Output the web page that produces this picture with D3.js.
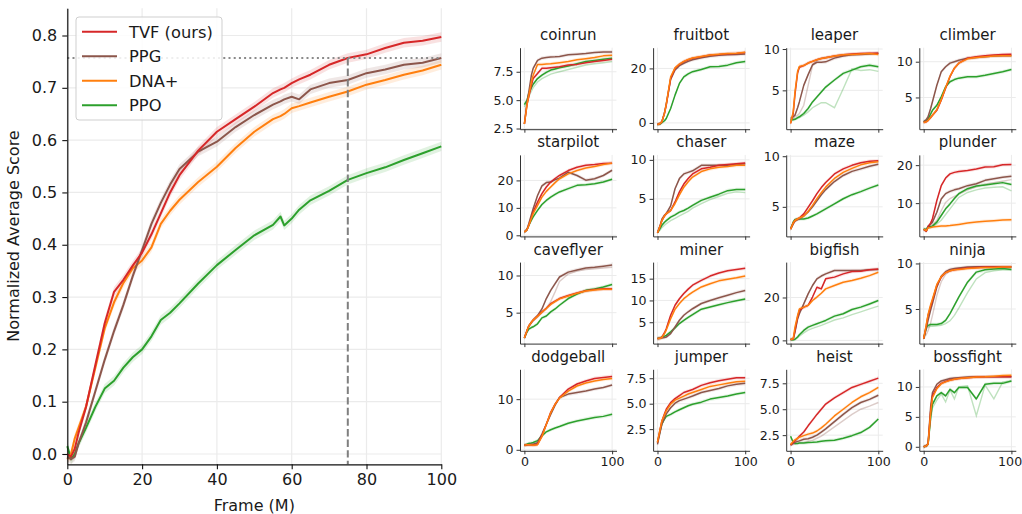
<!DOCTYPE html>
<html><head><meta charset="utf-8">
<script src="https://cdn.jsdelivr.net/npm/d3@7"></script>
<style>body{margin:0;background:#fff} svg{display:block} text{font-family:"DejaVu Sans",sans-serif;fill:#1a1a1a}</style>
</head><body><svg id="c" width="1022" height="514"></svg>
<script>
// ---------------- data: main panel ----------------
const mainFrames = [0,1,2,3,5,7.5,10,12.5,15,17.5,20,22.5,25,27.5,30,35,40,45,50,55,57,58,60,62,65,70,75,80,85,90,95,100];
const mainTVF = [0.0,-0.005,0.01,0.04,0.09,0.17,0.25,0.31,0.333,0.36,0.385,0.42,0.46,0.5,0.533,0.58,0.616,0.64,0.664,0.69,0.697,0.7,0.709,0.716,0.725,0.744,0.757,0.764,0.776,0.786,0.79,0.797];
const mainPPG = [-0.005,-0.01,-0.005,0.02,0.06,0.12,0.18,0.235,0.285,0.34,0.39,0.44,0.48,0.515,0.545,0.578,0.597,0.625,0.648,0.668,0.674,0.678,0.683,0.678,0.697,0.709,0.715,0.728,0.735,0.744,0.748,0.757];
const mainDNA = [-0.01,0.0,0.03,0.05,0.09,0.165,0.24,0.29,0.327,0.355,0.37,0.395,0.44,0.465,0.486,0.52,0.549,0.585,0.616,0.64,0.646,0.65,0.661,0.665,0.672,0.683,0.693,0.706,0.715,0.725,0.733,0.744];
const mainPPO = [0.015,-0.01,0.0,0.02,0.05,0.09,0.125,0.14,0.165,0.185,0.2,0.225,0.256,0.27,0.288,0.326,0.361,0.39,0.418,0.438,0.454,0.437,0.45,0.467,0.485,0.503,0.524,0.537,0.548,0.562,0.575,0.588];
const mainXTicks = [0,20,40,60,80,100];
const mainYTicks = [0.0,0.1,0.2,0.3,0.4,0.5,0.6,0.7,0.8];
const refFrame = 75;
const refScore = 0.757;
const seriesNames = ["TVF (ours)","PPG","DNA+","PPO"];

// ---------------- data: per-game panels ----------------
const games = ["coinrun","fruitbot","leaper","climber","starpilot","chaser","maze","plunder","caveflyer","miner","bigfish","ninja","dodgeball","jumper","heist","bossfight"];
const frames = [0,3,5,8,10,15,20,25,30,35,40,50,60,70,80,90,100];
const tvf = [
 [2.9,4.6,5.3,6.3,6.9,7.35,7.8,7.8,7.85,7.9,7.95,8.1,8.15,8.3,8.4,8.5,8.6],
 [-0.6,-0.2,0.4,3.5,6.5,16.3,20,21.5,22.5,23.2,23.7,24.3,24.9,25.1,25.4,25.5,25.8],
 [1.0,2.2,4.5,7.1,7.8,8.0,8.3,8.5,8.7,8.85,8.95,9.15,9.3,9.4,9.45,9.5,9.5],
 [1.5,1.6,1.8,2.2,2.5,3.2,4.6,6.3,7.9,9.1,9.8,10.5,10.7,10.85,10.95,11.0,11.05],
 [1.2,2.0,3.6,6.5,8.5,12.1,15.2,17.6,19.4,20.7,21.8,23.6,24.8,25.5,25.8,26.2,26.3],
 [0.65,1.5,2.2,2.8,3.1,3.5,4.6,5.9,6.9,7.6,8.2,8.85,9.05,9.3,9.4,9.5,9.6],
 [2.8,3.4,3.65,3.8,3.9,4.3,4.95,5.6,6.3,6.9,7.4,8.25,8.75,9.1,9.35,9.5,9.55],
 [3.1,2.6,3.7,4.8,5.9,10.7,14.6,16.6,17.7,18.1,18.3,18.6,19.0,19.5,19.6,20.1,20.2],
 [1.6,2.6,3.2,3.7,4.0,4.55,5.1,5.6,6.2,6.55,6.9,7.3,7.65,7.95,8.1,8.2,8.2],
 [1.25,1.3,1.6,2.6,3.5,6.6,8.9,10.4,11.6,12.6,13.5,14.6,15.6,16.3,16.8,17.1,17.4],
 [0.4,0.6,4.6,10.9,14.0,15.5,16.3,20.2,24.8,24.0,28.7,29.5,31.0,32.1,32.2,32.9,33.3],
 [1.75,3.2,4.3,5.3,5.95,7.6,8.5,9.0,9.2,9.3,9.4,9.5,9.55,9.6,9.6,9.6,9.6],
 [0.9,1.0,1.0,0.95,0.9,1.1,2.75,5.05,7.4,9.0,10.3,12.0,13.0,13.6,14.1,14.3,14.5],
 [1.2,2.5,3.3,4.0,4.45,5.1,5.5,5.8,6.1,6.25,6.4,6.8,7.05,7.25,7.4,7.55,7.55],
 [1.55,1.8,1.95,2.2,2.4,2.8,3.4,3.95,4.5,5.0,5.5,6.1,6.6,7.1,7.4,7.7,8.0],
 [0,0.15,0.45,6.0,8.5,9.9,10.6,10.9,11.15,11.3,11.4,11.55,11.65,11.7,11.7,11.7,11.7]
];
const ppg = [
 [2.9,4.8,5.7,7.2,7.8,8.5,8.7,8.75,8.8,8.82,8.85,9.0,9.05,9.1,9.2,9.25,9.25],
 [-0.6,-0.2,0.4,3.8,7.0,16.0,19.4,21.0,21.9,22.6,23.2,23.9,24.5,24.8,25.0,25.1,25.3],
 [1.6,1.8,2.0,2.9,3.6,5.6,6.9,8.1,8.4,8.4,8.45,8.9,9.15,9.3,9.35,9.4,9.5],
 [1.6,1.9,2.3,3.5,4.4,6.7,8.6,9.3,9.8,10.0,10.2,10.5,10.6,10.7,10.8,10.85,10.85],
 [1.2,2.2,4.2,7.5,9.7,14.5,18.0,19.2,19.4,20.3,20.8,23.0,21.8,20.1,20.6,21.8,23.7],
 [0.65,1.6,2.4,2.9,3.1,4.1,6.3,7.6,8.2,8.4,8.6,9.3,9.3,9.3,9.3,9.4,9.5],
 [2.8,3.3,3.6,3.75,3.8,4.1,4.5,5.0,5.6,6.2,6.7,7.5,8.1,8.5,8.75,9.0,9.2],
 [3.1,2.6,3.95,4.5,5.0,7.6,11.1,12.5,13.1,13.5,13.8,14.6,15.1,16.0,16.4,16.8,17.1],
 [1.6,2.6,3.2,3.7,4.0,4.6,5.5,6.9,8.0,8.9,9.8,10.45,10.75,11.0,11.1,11.25,11.4],
 [1.25,1.3,1.4,1.5,1.6,2.4,3.9,5.45,6.6,7.4,8.1,9.3,10.0,10.6,11.2,11.8,12.3],
 [0.4,0.5,3.9,10.0,12.4,17.0,21.7,25.6,28.7,30.0,31.0,32.6,32.6,32.6,32.6,32.9,33.0],
 [1.75,2.9,3.75,4.9,5.6,7.4,8.6,9.1,9.35,9.45,9.5,9.6,9.65,9.65,9.65,9.65,9.65],
 [0.9,1.0,1.05,1.1,1.1,1.4,3.1,5.05,7.0,8.8,10.3,11.0,11.3,11.6,12.0,12.3,12.8],
 [1.0,2.2,3.0,3.6,4.0,4.6,5.05,5.3,5.45,5.6,5.75,6.1,6.3,6.5,6.75,6.9,7.0],
 [1.55,1.7,1.8,1.9,1.95,2.1,2.15,2.3,2.5,2.8,3.1,3.8,4.5,5.15,5.65,5.95,6.35],
 [0,0.15,0.5,6.8,9.05,10.45,11.0,11.2,11.4,11.5,11.55,11.65,11.7,11.7,11.7,11.7,11.7]
];
const dna = [
 [2.9,4.6,5.4,6.6,7.2,8.15,8.15,8.18,8.2,8.25,8.3,8.4,8.55,8.65,8.75,8.9,8.95],
 [-0.6,-0.2,0.4,3.5,6.8,16.9,20.2,21.6,22.6,23.3,23.8,24.4,24.9,25.2,25.5,25.6,25.9],
 [1.0,2.4,4.8,7.3,7.9,8.0,8.3,8.5,8.7,8.85,8.95,9.15,9.3,9.35,9.4,9.45,9.35],
 [1.5,1.6,1.8,2.2,2.5,3.3,4.7,6.4,8.0,9.1,9.8,10.4,10.6,10.7,10.8,10.85,10.85],
 [1.2,2.0,3.6,6.2,7.9,10.9,13.9,16.0,17.6,19.2,20.6,22.4,23.6,24.5,25.1,25.8,26.3],
 [0.65,1.5,2.2,2.8,3.1,3.5,4.4,5.5,6.5,7.2,7.8,8.5,8.85,9.05,9.15,9.3,9.3],
 [2.8,3.4,3.65,3.8,3.9,4.1,4.55,5.15,5.8,6.4,6.95,7.8,8.4,8.8,9.15,9.35,9.45],
 [3.1,2.8,3.5,3.6,3.7,3.85,3.95,4.0,4.1,4.25,4.4,4.75,5.0,5.2,5.35,5.55,5.6],
 [1.6,2.6,3.2,3.7,4.0,4.5,5.05,5.55,6.1,6.5,6.85,7.25,7.6,7.9,8.05,8.15,8.15],
 [1.25,1.3,1.5,2.4,3.2,5.8,8.0,9.3,10.4,11.2,11.9,13.1,13.85,14.5,14.85,15.2,15.6],
 [0.4,0.8,6.2,11.6,14.7,15.5,16.3,18.6,20.2,22.0,24.0,25.6,27.1,27.9,29.0,30.2,31.8],
 [1.75,3.3,4.4,5.5,6.1,7.7,8.55,9.0,9.2,9.3,9.35,9.45,9.5,9.55,9.55,9.6,9.6],
 [0.9,1.0,1.0,0.95,0.9,1.0,2.6,5.0,7.3,9.0,10.2,11.6,12.6,13.2,13.6,13.9,14.1],
 [1.2,2.5,3.3,3.9,4.3,4.95,5.35,5.55,5.75,5.95,6.1,6.4,6.7,6.85,7.0,7.15,7.2],
 [1.6,1.9,2.05,2.2,2.3,2.45,2.6,2.7,2.9,3.2,3.55,4.35,5.0,5.65,6.2,6.6,7.1],
 [0,0.15,0.45,5.8,8.2,9.7,10.55,10.85,11.1,11.3,11.4,11.55,11.65,11.7,11.8,11.9,11.95]
];
const ppo = [
 [4.6,5.0,5.6,6.1,6.4,6.9,7.2,7.45,7.65,7.75,7.85,8.0,8.2,8.4,8.5,8.6,8.7],
 [-0.6,-0.4,0.1,0.8,1.6,5.3,10.2,14.5,16.9,18.0,18.8,19.6,20.6,20.7,21.2,22.1,22.5],
 [1.4,1.45,1.5,1.7,1.8,2.2,2.8,3.6,4.2,4.8,5.4,6.25,7.05,7.45,7.85,8.05,7.85],
 [1.6,1.8,2.0,2.7,3.2,3.9,5.1,6.5,7.2,7.5,7.7,7.9,7.9,8.1,8.35,8.6,8.9],
 [1.2,2.0,3.6,5.5,6.7,9.1,11.2,12.7,13.9,14.9,15.8,17.0,18.2,18.4,18.8,19.4,20.4],
 [0.65,1.2,1.6,2.0,2.2,2.65,2.95,3.3,3.5,3.8,4.15,4.8,5.2,5.6,6.05,6.2,6.2],
 [2.8,3.5,3.75,3.8,3.8,3.8,3.9,4.1,4.3,4.55,4.8,5.3,5.8,6.2,6.5,6.85,7.15],
 [3.1,3.2,3.7,3.85,3.95,5.0,6.75,8.5,9.8,11.2,12.5,13.8,14.5,14.8,15.1,15.4,14.9],
 [1.6,2.4,2.8,3.0,3.1,3.5,4.3,4.55,5.1,5.5,6.0,6.9,7.5,8.0,8.2,8.45,8.8],
 [1.25,1.4,1.6,1.8,2.0,2.8,3.7,4.7,5.45,6.1,6.75,8.0,8.5,9.0,9.5,9.95,10.35],
 [0.4,0.3,0.5,1.6,2.6,4.65,6.2,7.0,7.75,8.5,9.3,11.3,12.4,14.4,15.5,17.0,18.6],
 [1.75,3.0,3.2,3.3,3.3,3.3,3.4,3.75,4.5,5.4,6.3,7.95,9.05,9.3,9.4,9.45,9.35],
 [0.9,1.1,1.25,1.35,1.45,1.8,2.75,3.55,3.95,4.3,4.6,5.25,5.7,6.05,6.4,6.6,7.0],
 [1.2,2.3,3.0,3.5,3.75,3.95,4.2,4.4,4.6,4.8,4.95,5.15,5.45,5.6,5.75,5.95,6.1],
 [2.4,1.8,1.7,1.7,1.75,1.75,1.8,1.82,1.85,1.9,1.95,2.0,2.2,2.45,2.75,3.25,4.05],
 [0,0.15,0.45,5.0,7.1,8.5,9.05,8.5,9.6,9.05,9.9,9.9,8.0,10.45,10.6,10.6,11.0]
];
// faint (second-variant) runs, null where not distinguishable
const ppgFaint = [
 null, null,
 [1.5,1.6,1.8,2.0,2.2,3.2,5.6,8.0,8.7,8.9,9.0,9.1,9.2,9.3,9.35,9.4,9.45],
 null, null, null, null,
 [3.1,2.7,3.6,4.0,4.3,5.5,8.0,10.2,11.2,11.8,12.4,13.5,14.3,15.0,15.4,15.8,16.2],
 [1.6,2.5,3.1,3.6,3.9,4.4,5.0,5.6,6.5,7.8,9.2,10.2,10.6,10.8,10.9,11.0,11.1],
 null, null,
 [1.75,2.2,2.6,3.5,4.3,6.5,8.0,8.8,9.2,9.35,9.45,9.55,9.6,9.6,9.6,9.6,9.6],
 null, null,
 [1.55,1.6,1.65,1.7,1.75,1.8,1.9,2.0,2.2,2.4,2.7,3.3,3.9,4.5,5.0,5.3,5.65],
 null
];
const ppoFaint = [
 [4.4,4.8,5.3,5.8,6.1,6.6,6.9,7.1,7.3,7.4,7.5,7.7,7.9,8.1,8.2,8.3,8.4],
 null,
 [1.5,1.5,1.5,1.6,1.7,2.0,2.4,2.9,3.2,3.5,3.5,2.9,5.2,7.6,7.4,7.5,7.3],
 null, null,
 [0.65,1.0,1.3,1.6,1.8,2.2,2.5,2.8,3.1,3.4,3.8,4.4,4.9,5.3,5.7,5.9,5.8],
 null,
 [3.1,3.1,3.4,3.6,3.8,4.5,5.5,7.0,8.5,10.0,11.5,12.8,13.5,14.0,14.2,14.3,13.2],
 null, null,
 [0.4,0.3,0.4,1.2,2.0,3.5,4.8,5.6,6.3,7.0,7.8,9.5,10.5,12.0,13.3,14.7,16.0],
 [1.75,2.8,3.0,3.1,3.1,3.15,3.2,3.4,3.7,4.3,5.1,6.8,8.3,9.0,9.2,9.3,9.3],
 null, null, null,
 [0,0.1,0.3,4.5,6.5,7.8,8.8,7.5,9.5,8.0,10.0,10.2,5.2,10.3,8.0,10.8,11.0]
];
const yLimits = [[2.44,9.62],[-2.3,27.6],[0.3,10.16],[0.56,11.96],[-0.4,29.3],[0.18,10.64],[2.08,10.13],[1.24,22.7],
 [0.84,11.8],[0.1,18.8],[-1.5,36.5],[1.2,10.15],[-0.2,15.9],[0.37,8.38],[0.99,8.85],[-0.67,12.95]];
const yTickLabels = [["2.5","5.0","7.5"],["0","20"],["5","10"],["5","10"],["0","10","20"],["5","10"],["5","10"],["10","20"],
 ["5","10"],["5","10","15"],["0","20"],["5","10"],["0","10"],["2.5","5.0","7.5"],["2.5","5.0","7.5"],["0","5","10"]];
const panelXTicks = [0,100];

// ---------------- drawing ----------------
const svg = d3.select("#c");
const COL = {tvf:"#d62728", ppg:"#8c564b", dna:"#ff7f0e", ppo:"#2ca02c"};
const GRID = "#ebebeb";

// main chart
const mx = d3.scaleLinear().domain([0,100]).range([67.3,441.3]);
const my = d3.scaleLinear().domain([-0.0197,0.852]).range([464.3,8.3]);
const gm = svg.append("g");
mainYTicks.forEach(t => gm.append("line").attr("x1",mx(0)).attr("x2",mx(100)).attr("y1",my(t)).attr("y2",my(t)).attr("stroke",GRID).attr("stroke-width",1.2));
mainXTicks.forEach(t => gm.append("line").attr("x1",mx(t)).attr("x2",mx(t)).attr("y1",my.range()[0]).attr("y2",my.range()[1]).attr("stroke",GRID).attr("stroke-width",1.2));

const mainSeries = [["ppo",mainPPO],["dna",mainDNA],["ppg",mainPPG],["tvf",mainTVF]];
const mArea = d3.area().x(d=>mx(d[0])).y0(d=>my(d[1]-0.009)).y1(d=>my(d[1]+0.009));
const mLine = d3.line().x(d=>mx(d[0])).y(d=>my(d[1]));
mainSeries.forEach(([k,v]) => {
  const pts = mainFrames.map((f,i)=>[f,v[i]]);
  gm.append("path").attr("d",mArea(pts)).attr("fill",COL[k]).attr("opacity",0.14);
});
mainSeries.forEach(([k,v]) => {
  const pts = mainFrames.map((f,i)=>[f,v[i]]);
  gm.append("path").attr("d",mLine(pts)).attr("fill","none").attr("stroke",COL[k]).attr("stroke-width",2).attr("stroke-linejoin","round");
});
// reference lines
gm.append("line").attr("x1",mx(0)).attr("x2",mx(100)).attr("y1",my(refScore)).attr("y2",my(refScore))
  .attr("stroke","#8a8a8a").attr("stroke-width",2).attr("stroke-dasharray","2,3.2");
gm.append("line").attr("x1",mx(refFrame)).attr("x2",mx(refFrame)).attr("y1",my(refScore)).attr("y2",my.range()[0])
  .attr("stroke","#7f7f7f").attr("stroke-width",2).attr("stroke-dasharray","7.4,3.2");

const ax = gm.append("g").attr("transform",`translate(0,${my.range()[0]})`)
  .call(d3.axisBottom(mx).tickValues(mainXTicks).tickSize(5).tickSizeOuter(0).tickPadding(4));
const ay = gm.append("g").attr("transform",`translate(${mx(0)},0)`)
  .call(d3.axisLeft(my).tickValues(mainYTicks).tickFormat(d3.format(".1f")).tickSize(5).tickSizeOuter(0).tickPadding(5));
[ax,ay].forEach(a => {
  a.select(".domain").attr("stroke","#111").attr("stroke-width",1.2);
  a.selectAll(".tick line").attr("stroke","#111").attr("stroke-width",1.1);
  a.selectAll(".tick text").attr("font-size",16).attr("font-family","DejaVu Sans").attr("fill","#1a1a1a");
});
gm.append("text").attr("x",(mx(0)+mx(100))/2).attr("y",511).attr("text-anchor","middle").attr("font-size",16).text("Frame (M)");
gm.append("text").attr("transform",`translate(19,236) rotate(-90)`).attr("text-anchor","middle").attr("font-size",16).text("Normalized Average Score");

// legend
const lg = gm.append("g");
lg.append("rect").attr("x",76).attr("y",17).attr("width",146).attr("height",103).attr("rx",3)
  .attr("fill","#fff").attr("fill-opacity",0.85).attr("stroke","#cfcfcf");
["tvf","ppg","dna","ppo"].forEach((k,i) => {
  const y = 31.7 + i*24.5;
  lg.append("line").attr("x1",82).attr("x2",117).attr("y1",y).attr("y2",y).attr("stroke",COL[k]).attr("stroke-width",2);
  lg.append("text").attr("x",129).attr("y",y+5.8).attr("font-size",16.3).text(seriesNames[i]);
});

// small panels
const PW = 96.5, PH = 81.5;
games.forEach((g,i) => {
  const c = i%4, r = Math.floor(i/4);
  const left = 520 + c*133.1, top = 47.7 + r*107.2;
  const sx = d3.scaleLinear().domain([-5,105]).range([left,left+PW]);
  const sy = d3.scaleLinear().domain(yLimits[i]).range([top+PH, top]);
  const gp = svg.append("g");
  const tv = yTickLabels[i].map(Number);
  tv.forEach(t => gp.append("line").attr("x1",left).attr("x2",left+PW).attr("y1",sy(t)).attr("y2",sy(t)).attr("stroke",GRID).attr("stroke-width",1));
  panelXTicks.forEach(t => gp.append("line").attr("x1",sx(t)).attr("x2",sx(t)).attr("y1",top).attr("y2",top+PH).attr("stroke",GRID).attr("stroke-width",1));

  const span = yLimits[i][1]-yLimits[i][0];
  const band = span*0.022;
  const line = d3.line().x(d=>sx(d[0])).y(d=>sy(d[1]));
  const area = d3.area().x(d=>sx(d[0])).y0(d=>sy(d[1]-band)).y1(d=>sy(d[1]+band));
  const pts = arr => frames.map((f,j)=>[f,arr[j]]);
  const main = [["ppo",ppo[i]],["ppg",ppg[i]],["tvf",tvf[i]],["dna",dna[i]]];
  main.forEach(([k,v]) => gp.append("path").attr("d",area(pts(v))).attr("fill",COL[k]).attr("opacity",0.13));
  if (ppoFaint[i]) gp.append("path").attr("d",line(pts(ppoFaint[i]))).attr("fill","none").attr("stroke",COL.ppo).attr("stroke-opacity",0.3).attr("stroke-width",1.4);
  if (ppgFaint[i]) gp.append("path").attr("d",line(pts(ppgFaint[i]))).attr("fill","none").attr("stroke",COL.ppg).attr("stroke-opacity",0.3).attr("stroke-width",1.4);
  main.forEach(([k,v]) => gp.append("path").attr("d",line(pts(v))).attr("fill","none").attr("stroke",COL[k]).attr("stroke-width",1.5).attr("stroke-linejoin","round"));

  const axl = gp.append("g").attr("transform",`translate(${left},0)`)
    .call(d3.axisLeft(sy).tickValues(tv).tickFormat((d,j)=>yTickLabels[i][j]).tickSize(3.5).tickSizeOuter(0).tickPadding(3));
  const axb = gp.append("g").attr("transform",`translate(0,${top+PH})`)
    .call(d3.axisBottom(sx).tickValues(panelXTicks).tickFormat(r===3 ? d3.format("d") : ()=>"").tickSize(3.5).tickSizeOuter(0).tickPadding(3));
  [axl,axb].forEach(a => {
    a.select(".domain").attr("stroke","#333").attr("stroke-width",1);
    a.selectAll(".tick line").attr("stroke","#333");
    a.selectAll(".tick text").attr("font-size",12.6).attr("font-family","DejaVu Sans").attr("fill","#1a1a1a");
  });
  if (c === 3 && r === 3) axb.selectAll(".tick text").filter(d => d === 100).attr("dx", -1.8);
  gp.append("text").attr("x",left+PW/2).attr("y",top-7.5).attr("text-anchor","middle").attr("font-size",15).text(g);
});
</script></body></html>
